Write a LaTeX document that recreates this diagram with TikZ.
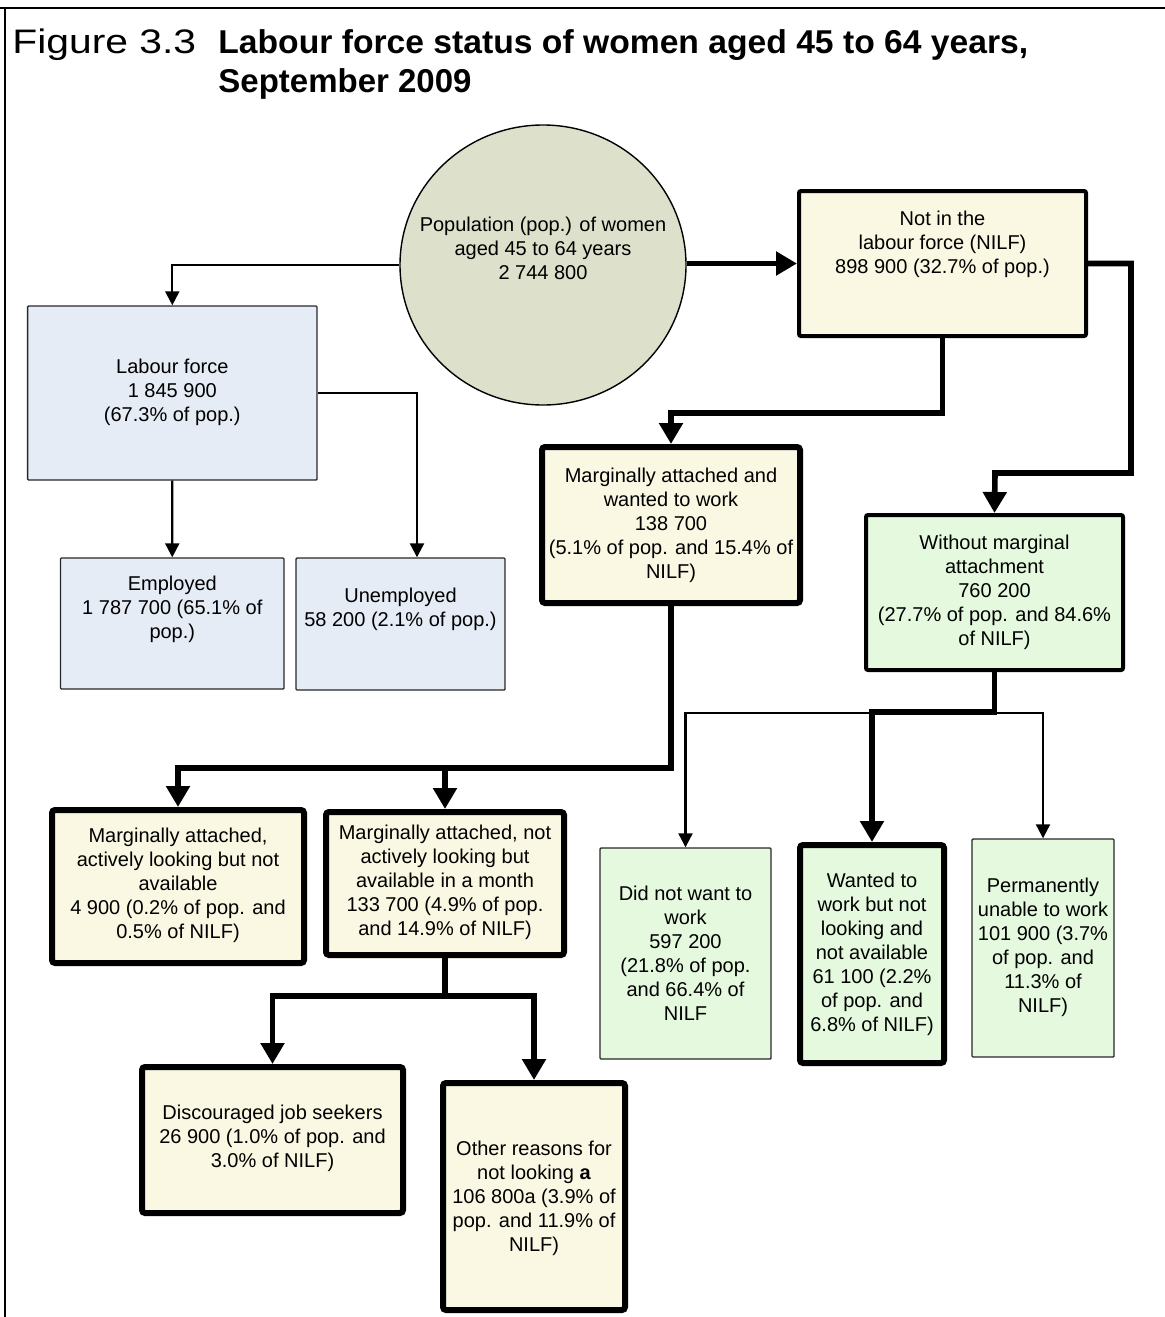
\documentclass[tikz,border=0pt]{standalone}
\usepackage{fontspec}
\setmainfont{Liberation Sans}
\usetikzlibrary{arrows.meta,fit,shapes.geometric}
\definecolor{circfill}{RGB}{221,224,203}
\definecolor{bluefill}{RGB}{229,236,246}
\definecolor{creamfill}{RGB}{250,248,226}
\definecolor{greenfill}{RGB}{228,249,222}
\definecolor{thinborder}{RGB}{40,40,40}
\begin{document}
\begin{tikzpicture}[x=0.5pt,y=-0.5pt,
  txt/.style={align=center, font=\fontsize{10}{12}\selectfont, inner sep=0pt},
  titlereg/.style={anchor=base west, inner sep=0pt, font=\fontsize{17}{19}\selectfont},
  titlebold/.style={anchor=base west, inner sep=0pt, font=\fontsize{16.5}{19}\selectfont\bfseries},
  thinbox/.style={draw=thinborder, line width=0.7pt, inner sep=0pt, rounded corners=0.5pt},
  midbox/.style={draw=black, line width=2pt, inner sep=0pt, rounded corners=1pt},
  fatbox/.style={draw=black, line width=3pt, inner sep=0pt, rounded corners=1.5pt},
  thinarr/.style={draw=black, line width=1.1pt, -{Triangle[length=7pt,width=7pt]}},
  fatarr/.style={draw=black, line width=2.8pt, line join=miter, -{Triangle[length=10.5pt,width=11.5pt]}}
]
\useasboundingbox (0,0) rectangle (1165,1317);
% frame
\draw[line width=1.25pt] (0,8) -- (1165,8);
\draw[line width=1.25pt] (5,8) -- (5,1317);
% title
\node[titlereg] (fig) at (12,54) {\scalebox{1.2}[1]{Figure 3.3}};
\node[titlebold] (title1) at (218,54) {\scalebox{1.02}[1]{Labour force status of women aged 45 to 64 years,}};
\node[titlebold] (title2) at (218,92) {September 2009};

% circle
\node[draw=black, line width=0.7pt, fill=circfill, ellipse, minimum width=143pt, minimum height=140pt, inner sep=0pt] (circ) at (543,265) {};
\node[txt] (circT) at (543,248.5) {Population (pop.) of women\\aged 45 to 64 years\\2 744 800};

% boxes
\node[thinbox, fill=bluefill, fit={(27.6,306) (317,480)}] (lab) {};
\node[txt] (labT) at (172.3,392) {Labour force\\1 845 900\\(67.3\% of pop.)};
\node[thinbox, fill=bluefill, fit={(60.5,558) (284,689)}] (emp) {};
\node[txt] (empT) at (172.3,609) {Employed\\1 787 700 (65.1\% of\\pop.)};
\node[thinbox, fill=bluefill, fit={(296,558) (505,690)}] (unemp) {};
\node[txt] (unempT) at (400.5,609) {Unemployed\\58 200 (2.1\% of pop.)};

\node[midbox, fill=creamfill, fit={(799,191) (1086,336)}] (nilf) {};
\node[txt] (nilfT) at (942.5,244) {Not in the\\labour force (NILF)\\898 900 (32.7\% of pop.)};

\node[fatbox, fill=creamfill, fit={(542,447) (800,603)}] (marg) {};
\node[txt] (margT) at (671,525) {Marginally attached and\\wanted to work\\138 700\\(5.1\% of pop. and 15.4\% of\\NILF)};

\node[midbox, fill=greenfill, fit={(866,515) (1123,670)}] (without) {};
\node[txt] (withoutT) at (994.5,592) {Without marginal\\attachment\\760 200\\(27.7\% of pop. and 84.6\%\\of NILF)};

\node[fatbox, fill=creamfill, fit={(52,810) (304,963)}] (ma1) {};
\node[txt] (ma1T) at (178,885.5) {Marginally attached,\\actively looking but not\\available\\4 900 (0.2\% of pop. and\\0.5\% of NILF)};

\node[fatbox, fill=creamfill, fit={(326,812) (564,955)}] (ma2) {};
\node[txt] (ma2T) at (445,882.5) {Marginally attached, not\\actively looking but\\available in a month\\133 700 (4.9\% of pop.\\and 14.9\% of NILF)};

\node[fatbox, fill=creamfill, fit={(142,1067) (403,1213)}] (disc) {};
\node[txt] (discT) at (272.5,1138) {Discouraged job seekers\\26 900 (1.0\% of pop. and\\3.0\% of NILF)};

\node[fatbox, fill=creamfill, fit={(443,1083) (625,1310)}] (other) {};
\node[txt] (otherT) at (534,1198.5) {Other reasons for\\not looking \textbf{a}\\106 800a (3.9\% of\\pop. and 11.9\% of\\NILF)};

\node[thinbox, fill=greenfill, fit={(600,848) (771,1059)}] (didnot) {};
\node[txt] (didnotT) at (685.5,953) {Did not want to\\work\\597 200\\(21.8\% of pop.\\and 66.4\% of\\NILF};

\node[fatbox, fill=greenfill, fit={(800,845) (944,1063)}] (want) {};
\node[txt] (wantT) at (872,954) {Wanted to\\work but not\\looking and\\not available\\61 100 (2.2\%\\of pop. and\\6.8\% of NILF)};

\node[thinbox, fill=greenfill, fit={(972,839) (1114,1057)}] (perm) {};
\node[txt] (permT) at (1043,947) {Permanently\\unable to work\\101 900 (3.7\%\\of pop. and\\11.3\% of\\NILF)};

% connectors
\draw[thinarr] (circ.west) -| (lab.north);
\draw[thinarr] (lab.south) -- (emp.north);
\draw[thinarr] (lab.east) -| ([xshift=8.25pt]unemp.north);
\draw[fatarr] (circ.east |- nilf.west) -- (nilf.west);
\draw[fatarr] (nilf.south) -- ++(0,75) -| (marg.north);
\draw[fatarr] (nilf.east) -- ++(43,0) |- (995,473) -- (without.north);
\draw[fatarr] (marg.south) -- (671,768) -| (ma1.north);
\coordinate (j1) at (445,768);
\draw[fatarr] (j1) -- (ma2.north);
\draw[fatarr] (ma2.south) -- (445,996) -| (disc.north);
\coordinate (j2) at (445,996);
\draw[fatarr] (j2) -| (other.north);
\coordinate (j3) at (994.5,713);
\draw[thinarr] (j3) -| (didnot.north);
\draw[thinarr] (j3) -| (perm.north);
\draw[fatarr] (without.south) -- (994.5,712) -| (want.north);
\end{tikzpicture}
\end{document}
